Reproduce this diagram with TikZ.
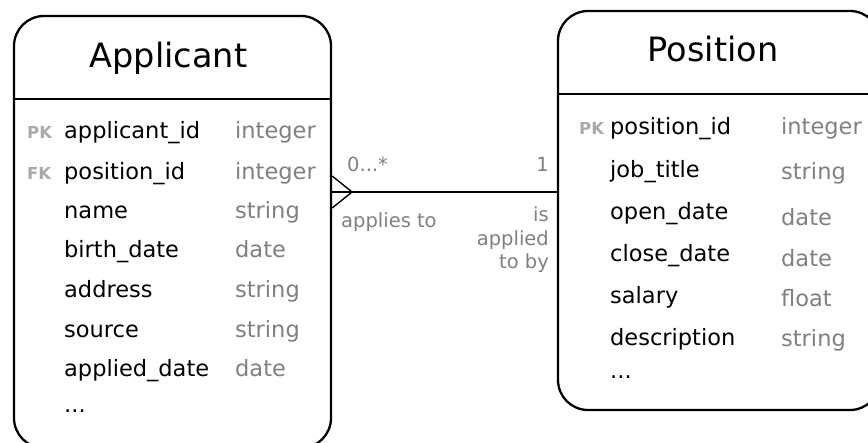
\documentclass[tikz,border=0pt]{standalone}
\usepackage{fontspec}
\setmainfont{DejaVu Sans}
\definecolor{typegray}{HTML}{808080}
\definecolor{keygray}{HTML}{AAAAAA}
\tikzset{
 entity/.style={draw=black, line width=2.3pt, rounded corners=30pt, fill=white, inner sep=0pt},
 etitle/.style={anchor=base, inner sep=0pt, font=\fontsize{33.5}{40}\selectfont},
 attr/.style={anchor=base west, inner sep=0pt, font=\fontsize{22.5}{27}\selectfont},
 typ/.style={attr, text=typegray},
 key/.style={anchor=base west, inner sep=0pt, font=\fontsize{16.5}{18}\selectfont\bfseries, text=keygray},
 lab/.style={inner sep=0pt, text=typegray, font=\fontsize{19.5}{23.5}\selectfont},
 sepline/.style={line width=2.3pt},
 rel/.style={line width=2.3pt},
 crow/.style={line width=1.4pt},
}
\begin{document}
\begin{tikzpicture}[x=1pt,y=-1pt]
\useasboundingbox (0,0) rectangle (868,443);
% entities
\node[entity, minimum width=317pt, minimum height=432pt] (app) at (172.5,232) {};
\node[entity, minimum width=322pt, minimum height=399pt] (pos) at (719,210.5) {};
% header separators
\draw[sepline] (app.west |- 0,99) -- (app.east |- 0,99);
\draw[sepline] (pos.west |- 0,94) -- (pos.east |- 0,94);
% titles
\node[etitle] (apptitle) at (168.5,68) {Applicant};
\node[etitle] (postitle) at (713,62) {Position};
% Applicant attributes
\node[key] (apk) at (27,139) {PK};
\node[key] (afk) at (27,180) {FK};
\node[attr] (a1) at (64,139) {applicant\_id};
\node[attr] (a2) at (64,180) {position\_id};
\node[attr] (a3) at (64,219) {name};
\node[attr] (a4) at (64,257.5) {birth\_date};
\node[attr] (a5) at (64,298) {address};
\node[attr] (a6) at (64,338) {source};
\node[attr] (a7) at (64,377) {applied\_date};
\node[attr] (a8) at (64,413) {...};
\node[typ] (at1) at (235,139) {integer};
\node[typ] (at2) at (235,180) {integer};
\node[typ] (at3) at (235,219) {string};
\node[typ] (at4) at (235,257.5) {date};
\node[typ] (at5) at (235,298) {string};
\node[typ] (at6) at (235,338) {string};
\node[typ] (at7) at (235,377) {date};
% Position attributes
\node[key] (ppk) at (579,135) {PK};
\node[attr] (p1) at (610,135) {position\_id};
\node[attr] (p2) at (610,178) {job\_title};
\node[attr] (p3) at (610,220) {open\_date};
\node[attr] (p4) at (610,262) {close\_date};
\node[attr] (p5) at (610,304) {salary};
\node[attr] (p6) at (610,346) {description};
\node[attr] (p7) at (610,379) {...};
\node[typ] (pt1) at (781,135) {integer};
\node[typ] (pt2) at (781,180) {string};
\node[typ] (pt3) at (781,226) {date};
\node[typ] (pt4) at (781,267) {date};
\node[typ] (pt5) at (781,307) {float};
\node[typ] (pt6) at (781,347) {string};
% relationship
\coordinate (relY) at (0,192);
\draw[rel] (app.east |- relY) -- (pos.west |- relY);
\coordinate (cf) at (352,192);
\draw[crow] (app.east |- 0,176) -- (cf) -- (app.east |- 0,208);
\node[lab, anchor=base west] (m1) at (347,172) {0...*};
\node[lab, anchor=base east] (m2) at (549,172) {1};
\node[lab, anchor=base west] (r1) at (341,228) {applies to};
\node[lab, anchor=base east] (r2a) at (549,222) {is};
\node[lab, anchor=base east] (r2b) at (549,246) {applied};
\node[lab, anchor=base east] (r2c) at (549,269) {to by};
\end{tikzpicture}
\end{document}
